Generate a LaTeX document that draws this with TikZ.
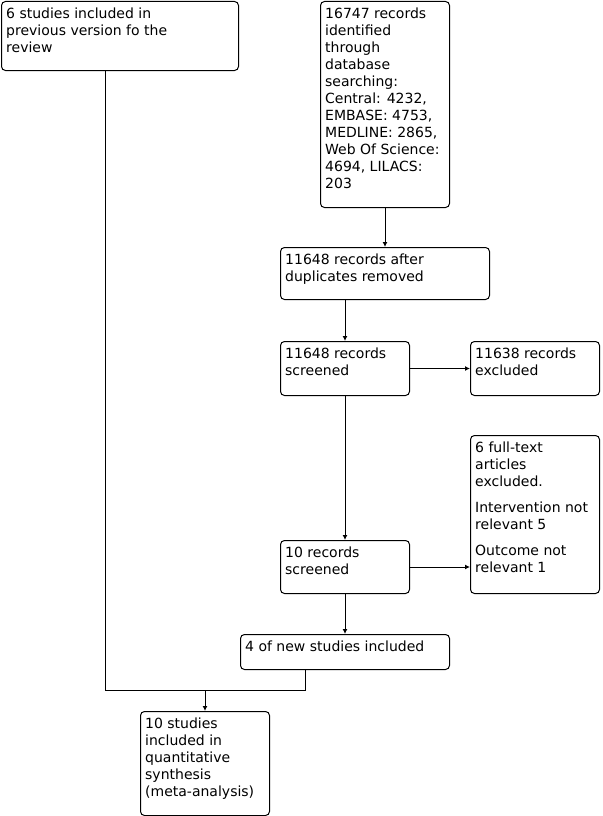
\documentclass[tikz,border=0pt]{standalone}
\usepackage{fontspec}
\setmainfont{DejaVu Sans}
\usetikzlibrary{arrows.meta}
\tikzset{
  box/.style={draw, rounded corners=4pt, line width=1pt, inner sep=0pt, anchor=north west},
  txt/.style={inner sep=0pt, anchor=north west, align=left, font=\fontsize{14}{17}\selectfont},
  arr/.style={-{Latex[length=5pt,width=5pt]}, line width=1pt},
  conn/.style={line width=1pt}
}
\newcommand{\flowbox}[6]{%
  \node[box, minimum width=#4-#2, minimum height=#5-#3] (#1) at (#2,#3) {};
  \node[txt] (#1t) at (#2+5,#3+7) {#6};
}
\begin{document}
\begin{tikzpicture}[x=1pt,y=-1pt]
\useasboundingbox (0,0) rectangle (602,816);
\flowbox{A}{1}{1}{238}{70}{6 studies included in\\previous version fo the\\review}
\flowbox{B}{320}{1}{449}{207}{16747 records\\identified\\through\\database\\searching:\\Central: 4232,\\EMBASE: 4753,\\MEDLINE: 2865,\\Web Of Science:\\4694, LILACS:\\203}
\flowbox{C}{280}{247}{489}{299}{11648 records after\\duplicates removed}
\flowbox{D}{280}{341}{409}{395}{11648 records\\screened}
\flowbox{E}{470}{341}{599}{395}{11638 records\\excluded}
\flowbox{F}{470}{435}{599}{593}{6 full-text\\articles\\excluded.\\[9pt]Intervention not\\relevant 5\\[9pt]Outcome not\\relevant 1}
\flowbox{G}{280}{540}{409}{593}{10 records\\screened}
\flowbox{H}{240}{634}{449}{669}{4 of new studies included}
\flowbox{I}{140}{711}{269}{815}{10 studies\\included in\\quantitative\\synthesis\\(meta-analysis)}
\coordinate (jl) at (105,690);
\coordinate (jr) at (305,690);
\draw[arr] (B.south) -- (C.north);
\draw[arr] (D.north |- C.south) -- (D.north);
\draw[arr] (D.east) -- (E.west);
\draw[arr] (D.south) -- (G.north);
\draw[arr] (G.east) -- (G.east -| F.west);
\draw[arr] (G.south) -- (G.south |- H.north);
\draw[conn] (A.south -| jl) -- (jl) -- (jr) -- (H.south -| jr);
\draw[arr] (I.north |- jl) -- (I.north);
\end{tikzpicture}
\end{document}
